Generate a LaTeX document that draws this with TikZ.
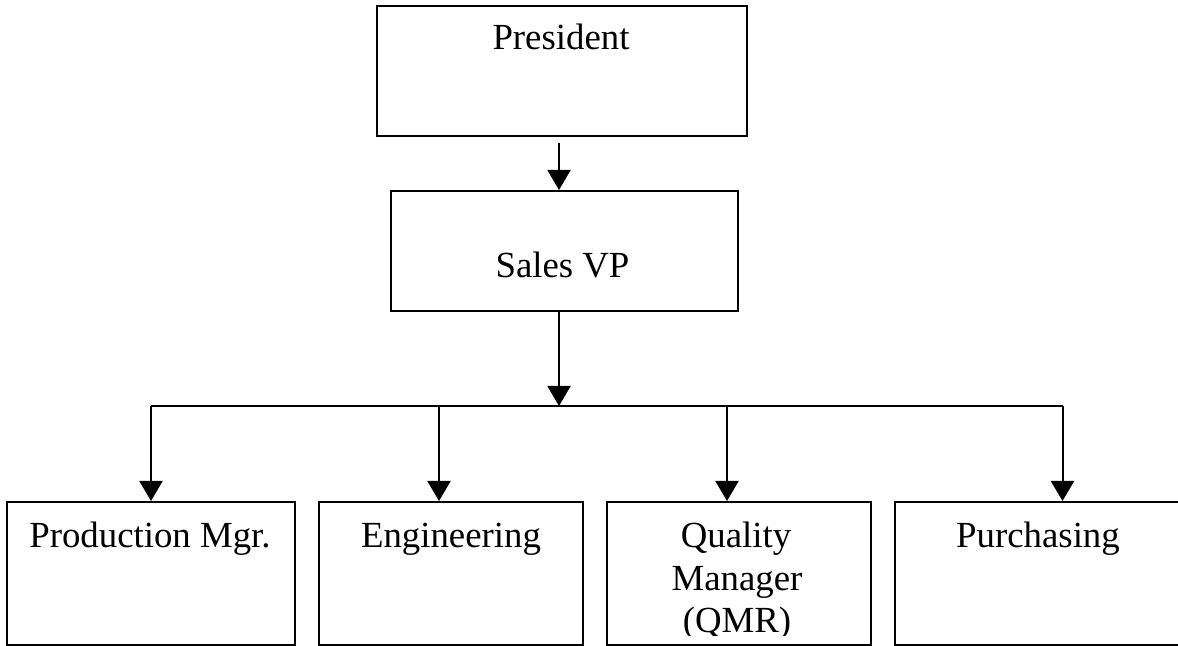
\documentclass[tikz,border=0pt]{standalone}
\usepackage{fontspec}
\setmainfont{Liberation Serif}
\usetikzlibrary{arrows.meta,calc}
\begin{document}
\begin{tikzpicture}[x=0.5pt,y=-0.5pt,
  box/.style={draw=black,line width=1pt,inner sep=0pt,fill=none},
  lbl/.style={anchor=base,inner sep=0pt,font=\fontsize{18.4}{21.5}\selectfont,text=black},
  conn/.style={draw=black,line width=1pt},
  arr/.style={conn,-{Triangle[width=11.5pt,length=10pt]}}]
\path[use as bounding box] (0,0) rectangle (1178,646);
\clip (0,0) rectangle (1178,646);
% boxes
\node[box,minimum width=185pt,minimum height=65pt] (pres) at (562,71) {};
\node[box,minimum width=173.5pt,minimum height=60pt] (sales) at (564.5,251) {};
\node[box,minimum width=144pt,minimum height=71.5pt] (prod) at (151,573.5) {};
\node[box,minimum width=132pt,minimum height=71.5pt] (eng) at (451,573.5) {};
\node[box,minimum width=132pt,minimum height=71.5pt] (qmr) at (739,573.5) {};
\node[box,minimum width=167.5pt,minimum height=71.5pt] (purch) at (1062.5,573.5) {};
% labels
\node[lbl] (presT) at (561,50) {President};
\node[lbl] (salesT) at (562.5,278) {Sales VP};
\node[lbl] (prodT) at (150,547) {Production Mgr.};
\node[lbl] (engT) at (451,547) {Engineering};
\node[lbl] (qmrA) at (736,547) {Quality};
\node[lbl] (qmrB) at (737,590) {Manager};
\begin{scope}
\clip (600,500) rectangle (880,635);
\node[lbl] (qmrC) at (737,632) {(QMR)};
\end{scope}
\node[lbl] (purchT) at (1038,547) {Purchasing};
% connectors
\coordinate (j0) at (559,406);
\coordinate (j1) at (151,406);
\coordinate (j2) at (439,406);
\coordinate (j3) at (727,406);
\coordinate (j4) at (1062.5,406);
\draw[arr] ($(pres.south -| j0)+(0,6)$) -- (sales.north -| j0);
\draw[arr] (sales.south -| j0) -- (j0);
\draw[conn] (j1) -- (j4);
\draw[arr] (j1) -- (j1 |- prod.north);
\draw[arr] (j2) -- (j2 |- eng.north);
\draw[arr] (j3) -- (j3 |- qmr.north);
\draw[arr] (j4) -- (j4 |- purch.north);
\end{tikzpicture}
\end{document}
